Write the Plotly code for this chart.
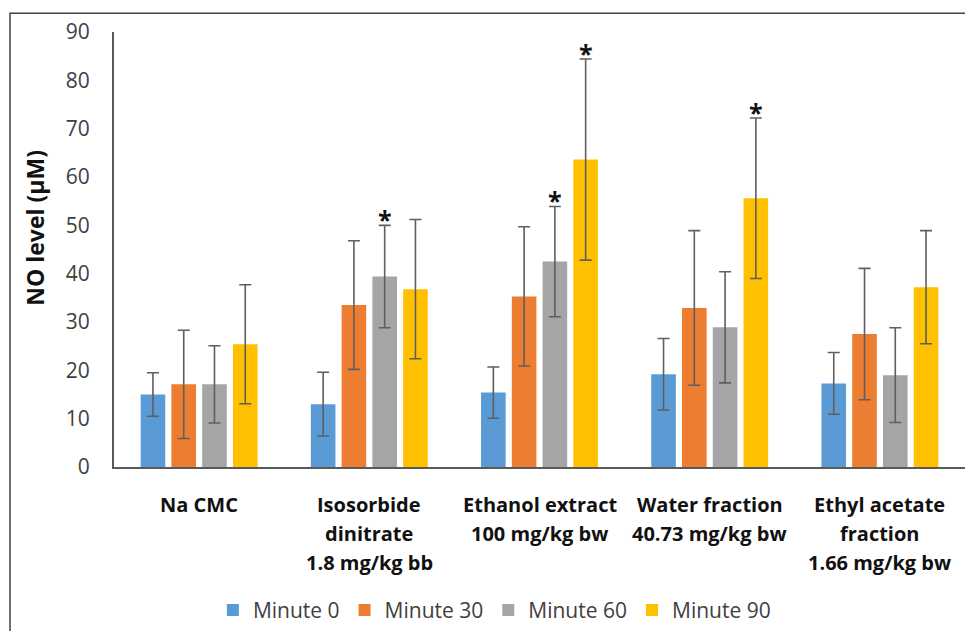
import plotly.graph_objects as go

categories = ["Na CMC", "Isosorbide<br>dinitrate<br>1.8 mg/kg bb", "Ethanol extract<br>100 mg/kg bw",
              "Water fraction<br>40.73 mg/kg bw", "Ethyl acetate<br>fraction<br>1.66 mg/kg bw"]
series_names = ["Minute 0", "Minute 30", "Minute 60", "Minute 90"]
values = [
    [15.0, 13.0, 15.4, 19.2, 17.3],
    [17.1, 33.5, 35.3, 32.9, 27.5],
    [17.1, 39.4, 42.5, 28.9, 19.0],
    [25.4, 36.8, 63.6, 55.6, 37.2],
]
errors = [
    [4.5, 6.6, 5.3, 7.4, 6.4],
    [11.2, 13.3, 14.4, 16.0, 13.6],
    [8.0, 10.6, 11.4, 11.5, 9.8],
    [12.3, 14.4, 20.8, 16.6, 11.7],
]
# significance marks: (series index, category index)
significant = [(2, 1), (2, 2), (3, 2), (3, 3)]
y_ticks = [0, 10, 20, 30, 40, 50, 60, 70, 80, 90]
y_title = "NO level (µM)"

colors = ["#5B9BD5", "#ED7D31", "#A5A5A5", "#FFC000"]
FONT = "Open Sans, sans-serif"
BARGAP = 0.277
GROUPGAP = 0.2

cat_ids = [c.replace("<br>", " ") for c in categories]

fig = go.Figure()
for i, name in enumerate(series_names):
    fig.add_trace(go.Bar(
        x=cat_ids, y=values[i], name=name,
        marker=dict(color=colors[i], line=dict(width=0)),
        error_y=dict(type="data", array=errors[i], visible=True,
                     color="#5f5f5f", thickness=1.6, width=6),
    ))

annotations = []
# asterisks above significant bars
for (si, ci) in significant:
    xpos = ci + (si - 1.5) * (1 - BARGAP) / 4
    annotations.append(dict(
        x=xpos, y=values[si][ci] + errors[si][ci], xref="x", yref="y",
        text="<b>*</b>", showarrow=False, yanchor="middle", yshift=6,
        font=dict(family=FONT, size=25, color="#111111")))

# category labels (multi-line)
for ci, cat in enumerate(categories):
    for j, line in enumerate(cat.split("<br>")):
        annotations.append(dict(
            x=ci, y=0, xref="x", yref="paper", text="<b>" + line + "</b>",
            showarrow=False, yanchor="top", yshift=-22 - j * 29,
            font=dict(family=FONT, size=20, color="#111111")))

# y axis title
annotations.append(dict(
    x=-0.0928, y=0.55, xref="paper", yref="paper", text="<b>" + y_title + "</b>",
    textangle=-90, showarrow=False, xanchor="center", yanchor="middle",
    font=dict(family=FONT, size=23, color="#111111")))

fig.update_layout(
    width=965, height=631,
    margin=dict(l=114, r=0, t=32, b=159),
    paper_bgcolor="white", plot_bgcolor="white",
    barmode="group", bargap=BARGAP, bargroupgap=GROUPGAP,
    font=dict(family=FONT, color="#404040"),
    xaxis=dict(categoryorder="array", categoryarray=cat_ids, showticklabels=False,
               showline=True, linecolor="#595959", linewidth=2, ticks="",
               showgrid=False, zeroline=False),
    yaxis=dict(range=[0, 90], tickvals=y_ticks, showgrid=False, zeroline=False,
               showline=True, linecolor="#595959", linewidth=2, ticks="",
               ticklabelstandoff=18,
               tickfont=dict(family=FONT, size=21, color="#404040")),
    showlegend=True,
    legend=dict(orientation="h", x=0.447, xanchor="center", y=-0.3295, yanchor="middle",
                font=dict(family=FONT, size=21, color="#404040"), traceorder="normal"),
    annotations=annotations,
    shapes=[dict(type="rect", xref="paper", yref="paper",
                 x0=-0.1222, x1=1.05, y0=-0.6, y1=1.0432,
                 line=dict(color="#404040", width=1.5), fillcolor="rgba(0,0,0,0)",
                 layer="below")],
)

fig.write_html("out.html")
